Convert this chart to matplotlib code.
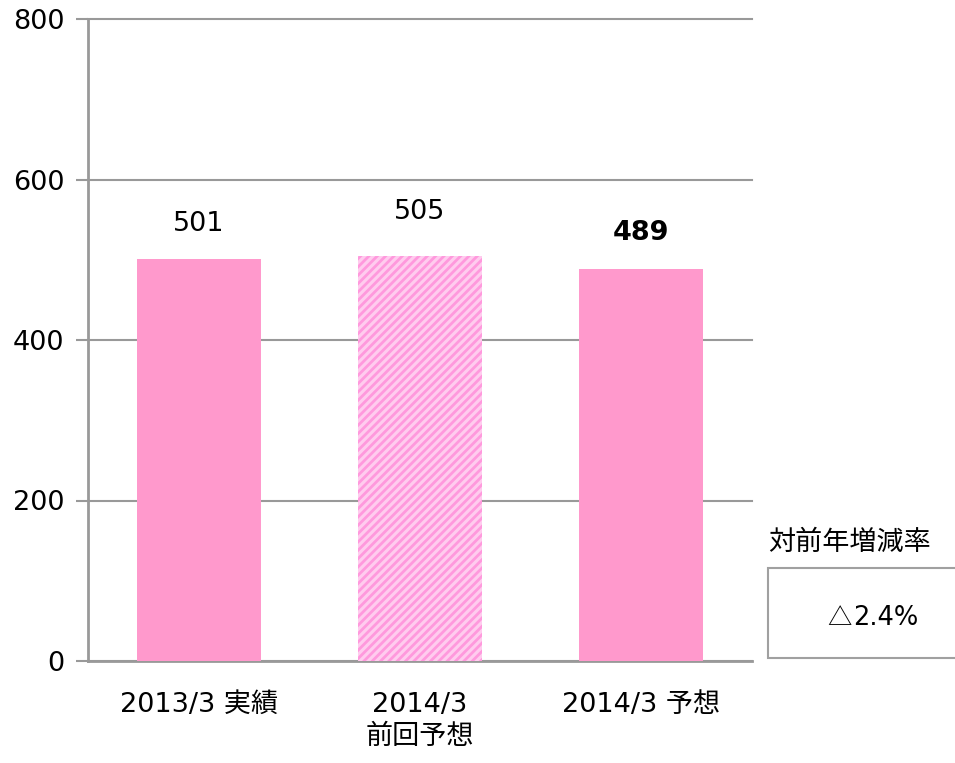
import matplotlib
matplotlib.use("Agg")
import matplotlib.pyplot as plt
from matplotlib.patches import Rectangle

plt.rcParams['font.family'] = ['DejaVu Sans', 'Noto Sans CJK JP']
plt.rcParams['hatch.linewidth'] = 2.0

categories = ['2013/3 実績', '2014/3\n前回予想', '2014/3 予想']
values = [501, 505, 489]
yticks = [0, 200, 400, 600, 800]
change_title = '対前年増減率'
change_text = '△2.4%'

label_offsets = [16, 22, 16]  # points above bar top

fig = plt.figure(figsize=(9.55, 7.63), dpi=100)
ax = fig.add_axes([88/955, 1-661/763, (752-88)/955, (661-19)/763])

x = list(range(len(categories)))
solid = '#FF99CC'
bars = ax.bar(x, values, width=0.56, color=solid, linewidth=0, zorder=3)
bars[1].set_facecolor('#FFCCEE')
bars[1].set_edgecolor('#FF99DD')
bars[1].set_hatch('////')
bars[1].set_linewidth(0)

for i, v in enumerate(values):
    ax.annotate(str(v), (x[i], v), xytext=(0, label_offsets[i]), textcoords='offset points',
                ha='center', va='bottom', fontsize=19.5,
                fontweight='bold' if i == 2 else 'normal', color='black')

ax.set_xlim(-0.5, 2.5)
ax.set_ylim(0, 800)
ax.set_yticks(yticks)
ax.set_yticklabels([str(t) for t in yticks])
ax.set_xticks(x)
ax.set_xticklabels(categories, linespacing=1.3)
ax.yaxis.grid(True, color='#999999', linewidth=1.5, zorder=0)
for gl in ax.get_ygridlines():
    gl.set_clip_on(False)
ax.set_axisbelow(True)
ax.tick_params(axis='y', length=9, width=1.5, color='#999999', labelsize=19.5, pad=8)
ax.tick_params(axis='x', length=0, labelsize=19.5, pad=22)
for s in ['top', 'right']:
    ax.spines[s].set_visible(False)
ax.spines['left'].set_color('#999999')
ax.spines['left'].set_linewidth(2)
ax.spines['bottom'].set_color('#999999')
ax.spines['bottom'].set_linewidth(2)

fig.text(768/955, 1-543/763, change_title, ha='left', va='center', fontsize=19.5)
rect = Rectangle((768/955, 1-658/763), (990-768)/955, (658-568)/763,
                 transform=fig.transFigure, facecolor='white', edgecolor='#A0A0A0',
                 linewidth=1.5, clip_on=False)
fig.add_artist(rect)
# triangle glyph in the CJK font (full width), number in DejaVu Sans
fig.text(852/955, 1-618/763, change_text[0], ha='right', va='center', fontsize=17.5,
         family=['Noto Sans CJK JP', 'DejaVu Sans'])
fig.text(853/955, 1-618/763, change_text[1:], ha='left', va='center', fontsize=18.5)

fig.savefig('out.png', dpi=100)
